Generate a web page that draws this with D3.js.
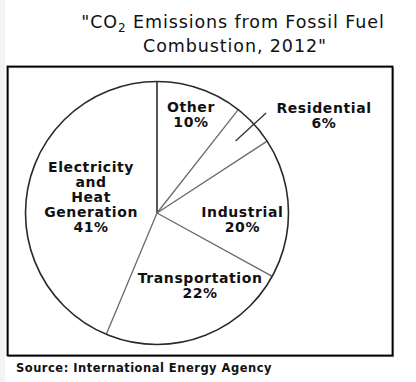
<!DOCTYPE html>
<html>
<head>
<meta charset="utf-8">
<script src="https://cdn.jsdelivr.net/npm/d3@7"></script>
<style>
  html, body { margin: 0; padding: 0; background: #fff; }
  svg { display: block; }
</style>
</head>
<body>
<svg id="chart" width="416" height="382"></svg>
<script>
// ---- data ----
const categories = ["Other", "Residential", "Industrial", "Transportation", "Electricity and Heat Generation"];
const labelLines = [["Other"], ["Residential"], ["Industrial"], ["Transportation"], ["Electricity", "and", "Heat", "Generation"]];
const percentLabels = ["10%", "6%", "20%", "22%", "41%"];
// slice sizes as drawn in the picture (share of the circle, %)
const drawnShares = [10.6, 5.2, 17.2, 23.3, 43.7];
// label placement: angle (deg, clockwise from top) and radius fraction
const labelAngle = [18.6, 59.1, 92.7, 148.4, 301.8];
const labelRadius = [0.81, 1.48, 0.65, 0.625, 0.59];
const titleLines = ["\"CO|2| Emissions from Fossil Fuel", "Combustion, 2012\""];
const sourceText = "Source: International Energy Agency";

// ---- layout ----
const W = 416, H = 382;
const cx = 157, cy = 213, R = 131.5;
const svg = d3.select("#chart");

svg.append("rect").attr("x", 0).attr("y", 0).attr("width", W).attr("height", H).attr("fill", "#fff");
svg.append("rect").attr("x", 0).attr("y", 0).attr("width", 5).attr("height", H).attr("fill", "#f3f3f3");

// title
const title = svg.append("text")
  .attr("text-anchor", "middle")
  .attr("font-family", "'DejaVu Sans', Verdana, sans-serif")
  .attr("font-size", 17.5)
  .attr("letter-spacing", 0.9)
  .attr("fill", "#111");
const t1 = title.append("tspan").attr("x", 233).attr("y", 28);
const parts = titleLines[0].split("|");
t1.append("tspan").text(parts[0]);
t1.append("tspan").attr("font-size", 12).attr("dy", 4).text(parts[1]);
t1.append("tspan").attr("dy", -4).text(parts[2]);
title.append("tspan").attr("x", 235).attr("y", 51.5).text(titleLines[1]);

// frame with a soft shadow
svg.append("rect").attr("x", 8.5).attr("y", 67.5).attr("width", 385).attr("height", 289)
  .attr("fill", "none").attr("stroke", "#999").attr("stroke-width", 1.2);
svg.append("rect").attr("x", 7.5).attr("y", 66.5).attr("width", 385).attr("height", 289)
  .attr("fill", "none").attr("stroke", "#000").attr("stroke-width", 1.8);

// pie
const g = svg.append("g").attr("transform", `translate(${cx},${cy})`);
const pie = d3.pie().sort(null).value(d => d).startAngle(0).endAngle(2 * Math.PI);
const arcs = pie(drawnShares);
const arc = d3.arc().innerRadius(0).outerRadius(R);

g.selectAll("path.slice").data(arcs).join("path")
  .attr("class", "slice")
  .attr("d", arc)
  .attr("fill", "#fff")
  .attr("stroke", "none");

// radial separators
g.selectAll("line.sep").data(arcs).join("line")
  .attr("class", "sep")
  .attr("x1", 0).attr("y1", 0)
  .attr("x2", d => d3.pointRadial(d.startAngle, R)[0])
  .attr("y2", d => d3.pointRadial(d.startAngle, R)[1])
  .attr("stroke", d => d.index === 0 ? "#111" : "#6a6a6a")
  .attr("stroke-width", d => d.index === 0 ? 1.4 : 1.3);

// outline
g.append("path")
  .attr("d", d3.arc().innerRadius(R).outerRadius(R)({startAngle: 0, endAngle: 2 * Math.PI}))
  .attr("fill", "none").attr("stroke", "#2a2a2a").attr("stroke-width", 1.6);

// residential leader line along the bisector of its slice
const res = arcs[1];
const mid = (res.startAngle + res.endAngle) / 2;
const p1 = d3.pointRadial(mid, R * 0.81), p2 = d3.pointRadial(mid, R * 1.125);
g.append("line").attr("x1", p1[0]).attr("y1", p1[1]).attr("x2", p2[0]).attr("y2", p2[1])
  .attr("stroke", "#333").attr("stroke-width", 1.3);

// labels
const lineH = 15;
arcs.forEach((d, i) => {
  const [lx, ly] = d3.pointRadial(labelAngle[i] * Math.PI / 180, R * labelRadius[i]);
  const lines = labelLines[i].concat([percentLabels[i]]);
  const t = g.append("text")
    .attr("text-anchor", "middle")
    .attr("font-family", "'DejaVu Sans', Verdana, sans-serif")
    .attr("font-weight", "bold")
    .attr("font-size", 14)
    .attr("letter-spacing", 0.6)
    .attr("fill", "#111");
  lines.forEach((s, k) => {
    t.append("tspan").attr("x", lx).attr("y", ly + k * lineH).text(s);
  });
});

// source
svg.append("text")
  .attr("x", 16).attr("y", 372)
  .attr("font-family", "'DejaVu Sans', Verdana, sans-serif")
  .attr("font-weight", "bold")
  .attr("font-size", 11.5)
  .attr("letter-spacing", 0.5)
  .attr("fill", "#111")
  .text(sourceText);
</script>
</body>
</html>
